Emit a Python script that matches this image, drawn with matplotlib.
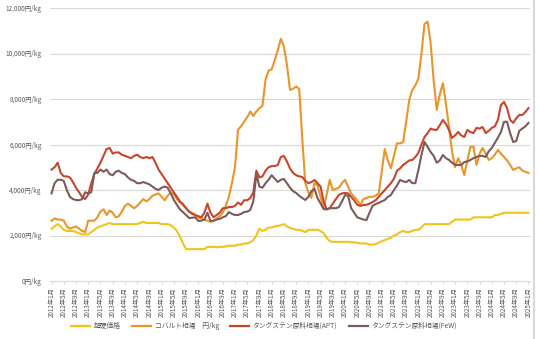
import matplotlib
matplotlib.use("Agg")
import matplotlib.pyplot as plt
from matplotlib.lines import Line2D
from matplotlib.ticker import FuncFormatter

plt.rcParams['font.family'] = ['Noto Sans CJK JP', 'DejaVu Sans']

# monthly categories 2012/1 .. 2025/1
months = [f"{y}年{m}月" for y in range(2012, 2026) for m in range(1, 13)][:157]
tick_every = 4

hardmetal = [
    2300, 2400, 2500, 2400, 2250, 2200, 2200, 2200, 2150, 2100, 2050, 2050,
    2050, 2150, 2250, 2350, 2400, 2450, 2500, 2550, 2500, 2500, 2500, 2500,
    2500, 2500, 2500, 2500, 2500, 2550, 2600, 2550, 2550, 2550, 2550, 2550,
    2500, 2500, 2500, 2450, 2350, 2200, 1950, 1650, 1400, 1400, 1400, 1400,
    1400, 1400, 1400, 1500, 1500, 1500, 1480, 1500, 1500, 1520, 1550, 1550,
    1550, 1600, 1600, 1650, 1650, 1700, 1800, 2000, 2300, 2200, 2250, 2350,
    2350, 2400, 2420, 2450, 2500, 2400, 2330, 2300, 2250, 2250, 2200, 2150,
    2250, 2250, 2250, 2250, 2200, 2100, 1900, 1750, 1720, 1720, 1720, 1720,
    1720, 1720, 1700, 1700, 1680, 1650, 1650, 1650, 1600, 1600, 1620, 1680,
    1750, 1800, 1850, 1900, 2000, 2050, 2150, 2200, 2150, 2150, 2200, 2250,
    2250, 2350, 2500, 2500, 2500, 2500, 2500, 2500, 2500, 2500, 2500, 2600,
    2700, 2700, 2700, 2700, 2700, 2700, 2800, 2800, 2800, 2800, 2800, 2800,
    2800, 2900, 2900, 2950, 3000, 3000, 3000, 3000, 3000, 3000, 3000, 3000,
    3000]

cobalt = [
    2650, 2750, 2700, 2700, 2650, 2400, 2300, 2350, 2400, 2300, 2200, 2150,
    2650, 2650, 2650, 2800, 3050, 3150, 2900, 3100, 3000, 2800, 2850, 3050,
    3300, 3400, 3300, 3200, 3300, 3450, 3600, 3500, 3600, 3750, 3800, 3850,
    3700, 3550, 3750, 3900, 3800, 3600, 3450, 3400, 3200, 3050, 3000, 2900,
    2800, 2750, 2700, 2650, 2600, 2650, 2750, 2850, 3000, 3300, 3700, 4300,
    5000, 6650, 6800, 7000, 7200, 7450, 7250, 7450, 7600, 7700, 8850, 9250,
    9300, 9700, 10150, 10650, 10300, 9500, 8400, 8450, 8550, 8450, 6300, 4300,
    3900, 3650, 4300, 4200, 3700, 3200, 3800, 4450, 4000, 4050, 4100, 4300,
    4450, 4150, 3850, 3700, 3550, 3350, 3600, 3650, 3700, 3700, 3750, 3850,
    4800, 5800, 5300, 4950, 5500, 6050, 6050, 6100, 7000, 7950, 8400, 8600,
    8900, 10000, 11300, 11400, 10450, 8800, 7520, 8200, 8700, 7800, 6770, 5700,
    5000, 5400, 5100, 4660, 5300, 5900, 5900, 5100, 5600, 5850, 5600, 5320,
    5400, 5550, 5760, 5600, 5450, 5300, 5100, 4880, 4950, 5000, 4850, 4800,
    4750]

apt = [
    4900, 5000, 5200, 4750, 4600, 4600, 4550, 4350, 4100, 3900, 3700, 3600,
    3800, 4300, 4700, 4950, 5200, 5500, 5800, 5850, 5600, 5650, 5650, 5550,
    5500, 5450, 5400, 5500, 5550, 5450, 5400, 5450, 5400, 5450, 5200, 4900,
    4700, 4500, 4300, 4100, 3900, 3700, 3500, 3350, 3200, 3050, 2950, 2900,
    2850, 2800, 3000, 3400, 3000, 2800, 2900, 3000, 3200, 3200, 3250, 3250,
    3300, 3450, 3350, 3550, 3550, 3650, 3900, 4850, 4550, 4600, 4850, 5000,
    5050, 5050, 5100, 5450, 5500, 5250, 4950, 4750, 4650, 4600, 4570, 4400,
    4300, 4350, 4440, 4300, 4150, 3500, 3150, 3200, 3400, 3600, 3780, 3850,
    3870, 3850, 3700, 3550, 3350, 3300, 3340, 3350, 3400, 3470, 3550, 3700,
    3850, 4000, 4150, 4300, 4500, 4850, 4950, 5100, 5200, 5300, 5320, 5450,
    5630, 6000, 6330, 6500, 6700, 6650, 6640, 6850, 7080, 6900, 6640, 6290,
    6400, 6550, 6400, 6330, 6640, 6550, 6500, 6730, 6700, 6770, 6500, 6600,
    6730, 6800, 7080, 7740, 7870, 7600, 7080, 6950, 7150, 7300, 7300, 7430,
    7600]

few = [
    3850, 4300, 4450, 4450, 4400, 4000, 3700, 3600, 3560, 3550, 3600, 3900,
    3850, 3900, 4750, 4750, 4900, 4800, 4900, 4700, 4650, 4800, 4850, 4750,
    4700, 4550, 4450, 4400, 4300, 4300, 4350, 4300, 4250, 4150, 4050, 4000,
    4100, 4150, 4100, 3850, 3560, 3350, 3150, 3030, 2900, 2770, 2780, 2800,
    2640, 2650, 2700, 3000, 2640, 2650, 2700, 2730, 2800, 2850, 3030, 2950,
    2900, 2900, 2950, 3030, 3050, 3120, 3500, 4700, 4150, 4100, 4300, 4450,
    4650, 4500, 4350, 4450, 4480, 4300, 4100, 3950, 3870, 3750, 3650, 3560,
    3700, 3950, 4050, 3650, 3400, 3160, 3150, 3200, 3200, 3200, 3250, 3500,
    3780, 3740, 3200, 3000, 2800, 2750, 2700, 2680, 3000, 3300, 3380, 3430,
    3500, 3560, 3700, 3780, 4000, 4200, 4440, 4380, 4350, 4440, 4300, 4300,
    4880, 5540, 6110, 5900, 5670, 5500, 5200, 5300, 5540, 5400, 5320, 5200,
    5100, 5100, 5100, 5230, 5250, 5320, 5400, 5450, 5500, 5500, 5450, 5700,
    5850, 6070, 6300, 6550, 7000, 7000, 6500, 6110, 6150, 6600, 6700, 6800,
    6950]

series_names = ["超硬価格", "コバルト相場　円/kg", "タングステン原料相場(APT)", "タングステン原料相場(FeW)"]
colors = ["#F0C419", "#E8962A", "#C8452B", "#7D5A5C"]

fig = plt.figure(figsize=(5.4, 3.39), dpi=100)
ax = fig.add_axes([50/540, (339-281)/339, (530-50)/540, (281-8)/339])

x = list(range(len(months)))
for vals, name, c in zip([hardmetal, cobalt, apt, few], series_names, colors):
    ax.plot(x, vals, color=c, lw=1.5, label=name, solid_joinstyle='round')

ax.set_xlim(-0.5, len(months) - 0.5)
ax.set_ylim(0, 12000)
ax.set_yticks(range(0, 12001, 2000))
ax.yaxis.set_major_formatter(FuncFormatter(lambda v, p: f"{int(v):,}円/kg"))
ax.grid(axis='y', color='#D9D9D9', lw=0.8)
ax.set_axisbelow(True)
for s in ['top', 'right', 'left']:
    ax.spines[s].set_visible(False)
ax.spines['bottom'].set_color('#D9D9D9')
ax.spines['bottom'].set_linewidth(0.8)

ticks = x[::tick_every]
ax.set_xticks(ticks)
ax.set_xticklabels([months[i] for i in ticks], rotation=90, fontsize=4.5, color='#595959')
ax.tick_params(axis='x', length=2.5, color='#D9D9D9', pad=2)
ax.tick_params(axis='y', length=0, labelsize=4.6, labelcolor='#595959', pad=6)

handles = [Line2D([0], [0], color=c, lw=1.6) for c in colors]
fig.legend(handles, series_names, loc='center', bbox_to_anchor=(264/540, 1 - 326/339),
           ncol=4, frameon=False, fontsize=4.9, handlelength=2.8, columnspacing=1.7,
           handletextpad=0.5, labelcolor='#595959')

fig.add_artist(Line2D([534/540, 534/540], [0, 1], color='#D9D9D9', lw=1.5, transform=fig.transFigure))

fig.savefig("out.png", dpi=100, facecolor='white')
